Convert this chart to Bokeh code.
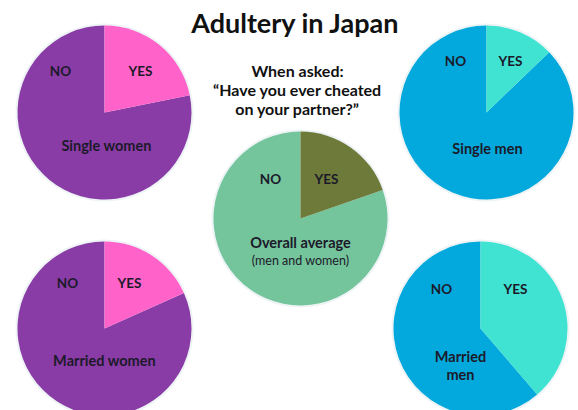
import math
from bokeh.plotting import figure, ColumnDataSource
from bokeh.models import Range1d
from bokeh.core.properties import value
from bokeh.embed import file_html
from bokeh.resources import INLINE

# ---- data ----
groups = ["Single women", "Single men", "Overall average", "Married women", "Married men"]
yes_pct = [21.8, 12.8, 19.7, 18.3, 38.7]
no_pct = [100 - v for v in yes_pct]
pie_labels = ["Single women", "Single men", "Overall average", "Married women", "Married\nmen"]
sub_labels = ["", "", "(men and women)", "", ""]
title = "Adultery in Japan"
subtitle = ["When asked:", "\u201cHave you ever cheated", "on your partner?\u201d"]

# ---- layout / styles ----
W, H = 578, 410
R = 87
centers = [(104, 112), (486, 112), (300, 218), (104, 328), (480, 328)]
no_colors = ["#8a3ca6", "#03a9dc", "#74c49c", "#8a3ca6", "#03a9dc"]
yes_colors = ["#ff63c9", "#40e2d2", "#6d7a3a", "#ff63c9", "#40e2d2"]
no_lbl = [(60, 70), (455, 60), (270, 178), (67, 282), (441, 288)]
yes_lbl = [(140, 70), (510, 60), (326, 178), (129, 282), (515, 288)]
name_lbl = [(106, 145), (487, 148), (300, 242), (104, 360), (460, 365)]
FONT = "Lato"
TXT = "#1c1a2a"

p = figure(width=W, height=H, output_backend="svg", toolbar_location=None,
           x_range=Range1d(0, W), y_range=Range1d(0, H),
           x_axis_type=None, y_axis_type=None, min_border=0)
p.outline_line_color = None
p.grid.visible = False
p.background_fill_color = "white"
p.border_fill_color = "white"

def fy(y):
    return H - y

start_yes, end_yes, start_no, end_no = [], [], [], []
for v in yes_pct:
    a = math.radians(90 - v / 100 * 360)
    start_yes.append(a)
    end_yes.append(math.radians(90))
    start_no.append(math.radians(90))
    end_no.append(a + 2 * math.pi)

cx = [c[0] for c in centers]
cy = [fy(c[1]) for c in centers]

# faint light rim
p.circle(x=cx, y=cy, radius=R + 2, fill_color="#eef4f6", line_color=None)

src = ColumnDataSource(dict(x=cx, y=cy, sy=start_yes, ey=end_yes, sn=start_no, en=end_no,
                            cn=no_colors, cyes=yes_colors))
p.wedge(x="x", y="y", radius=R, start_angle="sn", end_angle="en", direction="anticlock",
        fill_color="cn", line_color=None, source=src)
p.wedge(x="x", y="y", radius=R, start_angle="sy", end_angle="ey", direction="anticlock",
        fill_color="cyes", line_color=None, source=src)

# NO / YES labels
p.text(x=[q[0] for q in no_lbl], y=[fy(q[1]) for q in no_lbl], text=["NO"] * 5,
       text_font=value(FONT), text_font_style="bold", text_font_size="13.5px",
       text_align="center", text_baseline="middle", text_color=TXT)
p.text(x=[q[0] for q in yes_lbl], y=[fy(q[1]) for q in yes_lbl], text=["YES"] * 5,
       text_font=value(FONT), text_font_style="bold", text_font_size="13.5px",
       text_align="center", text_baseline="middle", text_color=TXT)

# group names
p.text(x=[q[0] for q in name_lbl], y=[fy(q[1]) for q in name_lbl], text=pie_labels,
       text_font=value(FONT), text_font_style="bold", text_font_size="14.5px",
       text_align="center", text_baseline="middle", text_color=TXT, text_line_height=1.1)
p.text(x=[300], y=[fy(260)], text=[sub_labels[2]],
       text_font=value(FONT), text_font_size="12.5px",
       text_align="center", text_baseline="middle", text_color=TXT)

# title & question
p.text(x=[295], y=[fy(22)], text=[title], text_font=value(FONT), text_font_style="bold",
       text_font_size="27px", text_align="center", text_baseline="middle", text_color="#111111")
p.text(x=[297, 297, 297], y=[fy(70), fy(89), fy(108)], text=subtitle,
       text_font=value(FONT), text_font_style="bold", text_font_size="16px",
       text_align="center", text_baseline="middle", text_color="#111111")

open("out.html", "w").write(file_html(p, INLINE))
